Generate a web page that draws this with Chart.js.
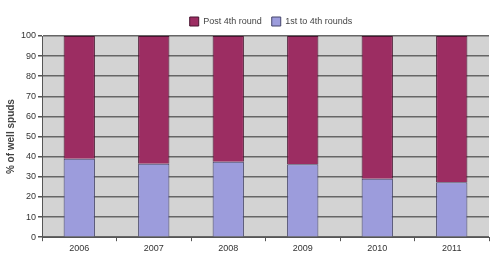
<!DOCTYPE html>
<html><head><meta charset="utf-8">
<script src="https://cdn.jsdelivr.net/npm/chart.js@4/dist/chart.umd.min.js"></script>
<style>html,body{margin:0;padding:0;background:#fff}#wrap{width:500px;height:259px}</style>
</head><body><div id="wrap"><canvas id="c" width="500" height="259"></canvas></div>
<script>
const years = ["2006","2007","2008","2009","2010","2011"];
const firstToFourth = [39, 36.5, 37.5, 36.3, 29, 27.3];
const post4th = [61, 63.5, 62.5, 63.7, 71, 72.7];
const yTicks = [0,10,20,30,40,50,60,70,80,90,100];

const bgPlugin = {
  id: 'bg',
  afterLayout(chart) {
    if (chart.legend) { chart.legend.left += 24; chart.legend.right += 24; }
  },
  beforeDraw(chart) {
    const {ctx, chartArea:a} = chart;
    ctx.save();
    ctx.fillStyle = '#d3d3d3';
    ctx.fillRect(a.left, a.top, a.right - a.left, a.bottom - a.top);
    ctx.restore();
  }
};

new Chart(document.getElementById('c'), {
  type: 'bar',
  data: {
    labels: years,
    datasets: [
      {label: '1st to 4th rounds', data: firstToFourth, backgroundColor: '#9c9cdc', borderColor: '#44446a', borderWidth: 1, barPercentage: 0.42, categoryPercentage: 1},
      {label: 'Post 4th round', data: post4th, backgroundColor: '#9c2d62', borderColor: '#4a1530', borderWidth: 1, barPercentage: 0.42, categoryPercentage: 1}
    ]
  },
  options: {
    responsive: false,
    animation: false,
    layout: {padding: {top: 7, right: 11, left: 5, bottom: 3}},
    plugins: {
      legend: {
        reverse: true,
        position: 'top',
        labels: {boxWidth: 9, boxHeight: 9, font: {family: 'Liberation Sans', size: 9}, color: '#444', padding: 10}
      },
      tooltip: {enabled: false}
    },
    scales: {
      x: {
        stacked: true,
        grid: {display: true, drawOnChartArea: false, drawTicks: true, tickLength: 4, color: '#555', offset: true},
        border: {color: '#555', width: 1},
        ticks: {font: {family: 'Liberation Sans', size: 9}, color: '#333', padding: 2}
      },
      y: {
        stacked: true, min: 0, max: 100,
        afterBuildTicks(s) { s.ticks = yTicks.map(v => ({value: v})); },
        grid: {color: '#666', lineWidth: 1.5, tickLength: 4, tickColor: '#555'},
        border: {color: '#555', width: 1},
        ticks: {font: {family: 'Liberation Sans', size: 9}, color: '#333', padding: 2},
        title: {display: true, text: '% of well spuds', font: {family: 'Liberation Sans', size: 10, weight: 'bold'}, color: '#444', padding: {top: 0, bottom: 2}}
      }
    }
  },
  plugins: [bgPlugin]
});
</script></body></html>
